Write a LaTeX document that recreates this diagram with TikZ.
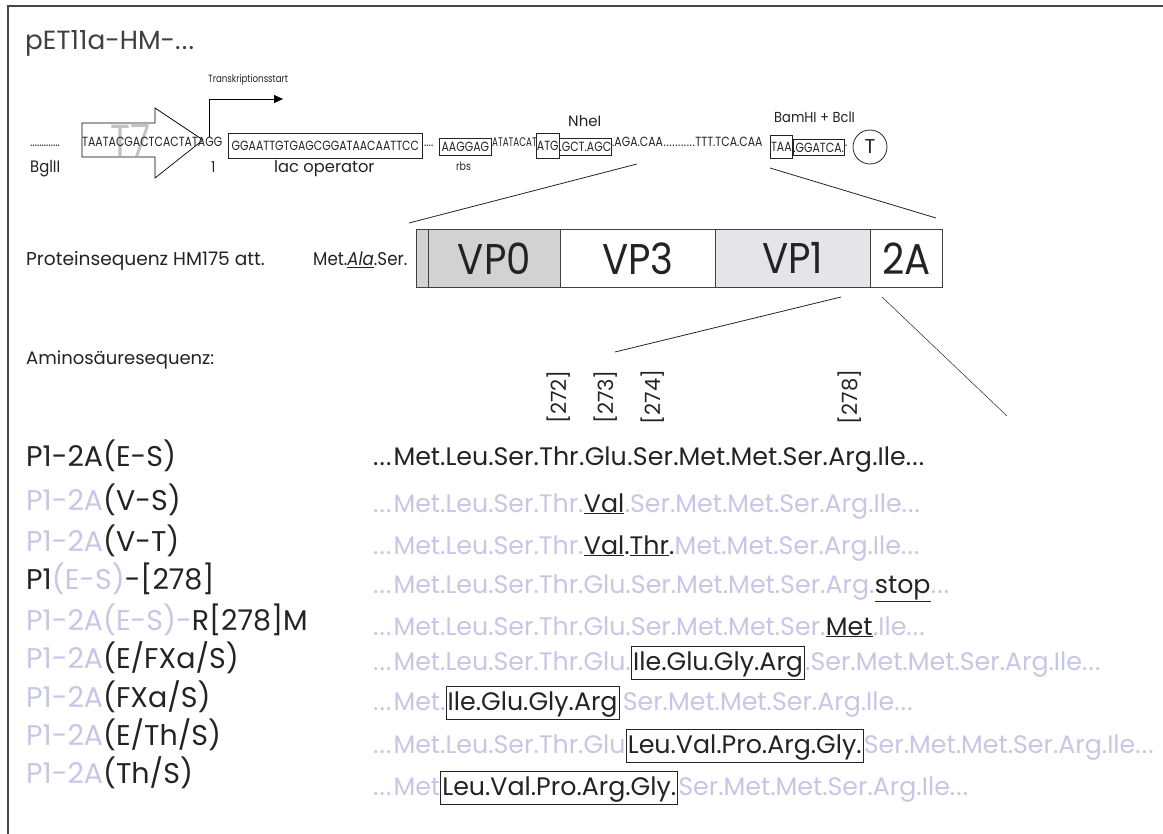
\documentclass[tikz,border=0pt]{standalone}
\usepackage{fontspec}
\setmainfont{Poppins}
\newfontfamily\narrowf[FakeStretch=0.82]{Poppins}
\newfontfamily\narrowerf[FakeStretch=0.7]{Poppins}
\newfontfamily\midf[FakeStretch=0.9]{Poppins}
\usetikzlibrary{arrows.meta}
\definecolor{lil}{RGB}{198,198,230}
\definecolor{ink}{RGB}{35,35,35}
\definecolor{framec}{RGB}{70,70,70}
\definecolor{vpzero}{RGB}{210,210,210}
\definecolor{vpone}{RGB}{229,229,233}
\definecolor{tgray}{RGB}{195,195,195}
\newcommand\dts{.\kern1.2pt.\kern1.2pt.}
\begin{document}
\begin{tikzpicture}[x=1pt,y=-1pt,
  t/.style={inner sep=0pt, anchor=base west, text=ink},
  dna/.style={t, font=\narrowf\fontsize{13.3}{13.3}\selectfont},
  dbox/.style={draw=ink, line width=0.7pt, inner sep=0pt, anchor=north west, text=ink, font=\narrowf\fontsize{13.3}{13.3}\selectfont},
  sq/.style={t, font=\fontsize{25.3}{30}\selectfont},
  lbl/.style={t, font=\fontsize{28.5}{34}\selectfont},
  sbox/.style={draw=ink, line width=0.9pt, inner xsep=1.5pt, inner ysep=4pt, text height=20pt, text depth=5pt, anchor=base west, text=ink, font=\fontsize{25.3}{30}\selectfont},
  vp/.style={draw=black!75, line width=0.8pt, inner sep=0pt, anchor=north west, minimum height=58pt, text=ink, font=\midf\fontsize{43}{43}\selectfont}
]
\useasboundingbox (0,0) rectangle (1163,834);
% frame
\draw[framec, line width=1.5pt] (1163,6) -- (8,6) -- (8,834);
% title
\node[t, font=\fontsize{26.3}{30}\selectfont, text=black!75] (title) at (25,50) {pET11a-HM-\dts};

% T7 promoter block arrow
\draw[line width=0.7pt, fill=white] (82,123) -- (155,123) -- (155,108) -- (203,140) -- (155,178) -- (155,157) -- (82,157) -- cycle;
\node[t, font=\narrowf\fontsize{45}{45}\selectfont, text=tgray] (t7) at (110,157) {T7};
% transcription start arrow
\coordinate (ts0) at (209,137);
\coordinate (ts1) at (209,99);
\coordinate (ts2) at (283,99);
\draw[line width=0.8pt, -{Triangle[length=9pt,width=8pt]}] (ts0) -- (ts1) -- (ts2);
\node[t, font=\narrowf\fontsize{10.5}{10}\selectfont] (tstxt) at (208,83) {Transkriptionsstart};

% DNA sequence line
\node[dna] (d0) at (30,147) {.............};
\node[dna] (d1) at (82,147) {TAATACGACTCACTATAGG};
\node[dbox, minimum width=194pt, minimum height=25pt] (lac) at (228,133) {GGAATTGTGAGCGGATAACAATTCC};
\node[dna] (d2) at (424,147) {....};
\node[dbox, minimum width=52pt, minimum height=17pt] (rbs) at (439,138) {AAGGAG};
\node[t, font=\narrowerf\fontsize{12.5}{12.5}\selectfont] (d3) at (492,147) {ATATACAT};
\node[dbox, minimum width=23pt, minimum height=25pt] (atg) at (536,133) {ATG};
\node[dbox, minimum width=52pt, minimum height=17pt] (nhe) at (559,138) {.GCT.AGC};
\node[dna] (d4) at (612,147) {.AGA.CAA\kern.6pt.\kern.6pt.\kern.6pt.\kern.6pt.\kern.6pt.\kern.6pt.\kern.6pt.\kern.6pt.\kern.6pt.\kern.6pt.\kern.6pt.\kern.6pt TTT.TCA.CAA};
\node[dbox, minimum width=22pt, minimum height=23pt] (taa) at (770,135) {TAA};
\node[dbox, minimum width=48pt, minimum height=16pt] (bam) at (793,139) {.GGATCA.};
\node[dna] (d5) at (845,147) {.};
\node[draw=ink, circle, line width=0.8pt, minimum size=34pt, inner sep=0pt, text=ink, font=\fontsize{20}{20}\selectfont] (term) at (870,147) {T};

% DNA labels
\node[t, font=\midf\fontsize{16.5}{16}\selectfont] (bgl) at (30,173) {BglII};
\node[t, font=\midf\fontsize{15}{15}\selectfont] (one) at (211,173) {1};
\node[t, font=\fontsize{16.3}{16}\selectfont] (lacl) at (274,173) {lac operator};
\node[t, font=\narrowf\fontsize{11.5}{11}\selectfont] (rbsl) at (456,171) {rbs};
\node[t, font=\fontsize{15}{15}\selectfont] (nhel) at (568,127) {NheI};
\node[t, font=\midf\fontsize{14.5}{14}\selectfont] (baml) at (774,123) {BamHI + BclI};

% protein bar
\node[t, font=\fontsize{18.6}{18}\selectfont] (prot) at (26,266) {Proteinsequenz HM175 att.};
\node[t, font=\midf\fontsize{18.5}{17}\selectfont] (mas) at (313,266) {Met.\underline{\itshape Ala}.Ser.};
\node[vp, fill=vpzero, minimum width=12pt] (strip) at (416,229) {};
\node[vp, fill=vpzero, minimum width=132pt] (vp0) at (428,229) {VP0};
\node[vp, fill=white, minimum width=155pt] (vp3) at (560,229) {VP3};
\node[vp, fill=vpone, minimum width=155pt] (vp1) at (715,229) {VP1};
\node[vp, fill=white, minimum width=72pt] (twoa) at (870,229) {2A};

% expansion lines
\coordinate (e1a) at (637,164); \coordinate (e1b) at (409,223);
\coordinate (e2a) at (770,168); \coordinate (e2b) at (936,218);
\coordinate (e3a) at (841,297); \coordinate (e3b) at (615,352);
\coordinate (e4a) at (882,297); \coordinate (e4b) at (1007,416);
\draw[ink, line width=0.8pt] (e1a) -- (e1b);
\draw[ink, line width=0.8pt] (e2a) -- (e2b);
\draw[ink, line width=0.8pt] (e3a) -- (e3b);
\draw[ink, line width=0.5pt] (e4a) -- (e4b);

\node[t, font=\fontsize{18}{18}\selectfont] (amino) at (26,365) {Aminosäuresequenz:};

% row 1 (reference sequence), split for position labels
\node[sq] (a1) at (373,466) {\dts\kern2pt Met.Leu.Ser.};
\node[sq] (thr) at (a1.base east) {Thr};
\node[sq] (p1) at (thr.base east) {.};
\node[sq] (glu) at (p1.base east) {Glu};
\node[sq] (p2) at (glu.base east) {.};
\node[sq] (ser) at (p2.base east) {Ser};
\node[sq] (a2) at (ser.base east) {.Met.Met.Ser.};
\node[sq] (arg) at (a2.base east) {Arg};
\node[sq] (a3) at (arg.base east) {.Ile\dts};
\foreach \n/\lab in {thr/272, glu/273, ser/274, arg/278}
  \node[rotate=90, inner sep=0pt, text=ink, font=\fontsize{21}{21}\selectfont] (pos\lab) at (\n.center |- 0,397) {[\lab]};

% row 2
\node[sq, text=lil] (b1) at (373,512) {\dts\kern2pt Met.Leu.Ser.Thr.};
\node[sq] (b2) at (b1.base east) {\underline{Val}};
\node[sq, text=lil] (b3) at (b2.base east) {.Ser.Met.Met.Ser.Arg.Ile\dts};
% row 3
\node[sq, text=lil] (c1) at (373,554) {\dts\kern2pt Met.Leu.Ser.Thr.};
\node[sq] (c2) at (c1.base east) {\underline{Val}.\underline{Thr}.};
\node[sq, text=lil] (c3) at (c2.base east) {Met.Met.Ser.Arg.Ile\dts};
% row 4
\node[sq, text=lil] (f1) at (373,593) {\dts\kern2pt Met.Leu.Ser.Thr.Glu.Ser.Met.Met.Ser.Arg.};
\node[sq] (f2) at (f1.base east) {\underline{stop}};
\node[sq, text=lil] (f3) at (f2.base east) {\dts};
% row 5
\node[sq, text=lil] (g1) at (373,635) {\dts\kern2pt Met.Leu.Ser.Thr.Glu.Ser.Met.Met.Ser.};
\node[sq] (g2) at (g1.base east) {\underline{Met}};
\node[sq, text=lil] (g3) at (g2.base east) {.Ile\dts};
% row 6
\node[sq, text=lil] (h1) at (373,670) {\dts\kern2pt Met.Leu.Ser.Thr.Glu.};
\node[sbox] (h2) at (h1.base east) {Ile.Glu.Gly.Arg};
\node[sq, text=lil] (h3) at (h2.base east) {.Ser.Met.Met.Ser.Arg.Ile\dts};
% row 7
\node[sq, text=lil] (k1) at (373,710) {\dts\kern2pt Met.};
\node[sbox] (k2) at (k1.base east) {Ile.Glu.Gly.Arg};
\node[sq, text=lil, xshift=3pt] (k3) at (k2.base east) {Ser.Met.Met.Ser.Arg.Ile\dts};
% row 8
\node[sq, text=lil] (m1) at (373,753) {\dts\kern2pt Met.Leu.Ser.Thr.Glu};
\node[sbox] (m2) at (m1.base east) {Leu.Val.Pro.Arg.Gly.};
\node[sq, text=lil] (m3) at (m2.base east) {Ser.Met.Met.Ser.Arg.Ile\dts};
% row 9
\node[sq, text=lil] (n1) at (373,795) {\dts\kern2pt Met};
\node[sbox] (n2) at (n1.base east) {Leu.Val.Pro.Arg.Gly.};
\node[sq, text=lil] (n3) at (n2.base east) {Ser.Met.Met.Ser.Arg.Ile\dts};

% construct labels
\node[lbl] (l1) at (26,467) {P1-2A(E-S)};
\node[lbl] (l2) at (26,510) {\textcolor{lil}{P1-2A}(V-S)};
\node[lbl] (l3) at (26,551) {\textcolor{lil}{P1-2A}(V-T)};
\node[lbl] (l4) at (26,589) {P1\textcolor{lil}{(E-S)}-[278]};
\node[lbl] (l5) at (26,630) {\textcolor{lil}{P1-2A(E-S)-}R[278]M};
\node[lbl] (l6) at (26,668) {\textcolor{lil}{P1-2A}(E/FXa/S)};
\node[lbl] (l7) at (26,707) {\textcolor{lil}{P1-2A}(FXa/S)};
\node[lbl] (l8) at (26,745) {\textcolor{lil}{P1-2A}(E/Th/S)};
\node[lbl] (l9) at (26,783) {\textcolor{lil}{P1-2A}(Th/S)};
\end{tikzpicture}
\end{document}
